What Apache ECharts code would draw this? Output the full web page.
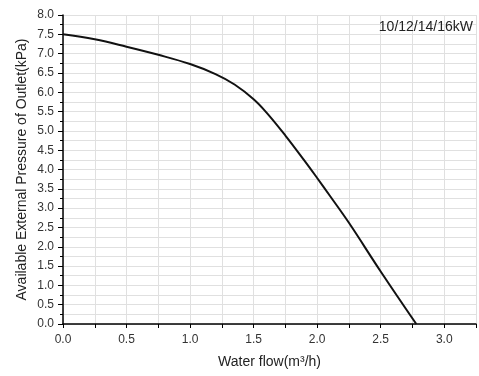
<!DOCTYPE html>
<html><head><meta charset="utf-8">
<script src="https://cdn.jsdelivr.net/npm/echarts@6/dist/echarts.min.js"></script>
<style>html,body{margin:0;padding:0;background:#fff}#c{width:479px;height:376px}</style>
</head><body><div id="c"></div>
<script>
var flow = [0, 0.25, 0.5, 0.75, 1.0, 1.2, 1.35, 1.5, 1.6, 1.75, 1.9, 2.0, 2.1, 2.25, 2.5, 2.78];
var pressure = [7.50, 7.37, 7.18, 6.97, 6.73, 6.47, 6.20, 5.82, 5.48, 4.88, 4.23, 3.78, 3.32, 2.62, 1.36, 0.0];
var title = "10/12/14/16kW";
var xName = "Water flow(m\u00B3/h)";
var yName = "Available External Pressure of Outlet(kPa)";

var data = flow.map(function (f, i) { return [f, pressure[i]]; });
var font = "Liberation Sans, Arial, sans-serif";
var chart = echarts.init(document.getElementById('c'));
chart.setOption({
  animation: false,
  backgroundColor: '#fff',
  title: { text: title, right: 1, top: 15, textStyle: { fontFamily: font, fontSize: 14, fontWeight: 'normal', color: '#222' } },
  grid: { left: 63, right: 0, top: 15, bottom: 52, containLabel: false },
  xAxis: {
    type: 'value', min: 0, max: 3.25, interval: 0.25,
    name: xName, nameLocation: 'middle', nameGap: 31,
    nameTextStyle: { fontFamily: font, fontSize: 14, color: '#222' },
    axisLine: { show: true, onZero: false, lineStyle: { color: '#000', width: 1.5 } },
    axisTick: { show: true, inside: false, length: 4, lineStyle: { color: '#000' } },
    axisLabel: { fontFamily: font, fontSize: 12, color: '#333', margin: 10,
      formatter: function (v) { return (Math.abs(v * 2 - Math.round(v * 2)) < 1e-6) ? v.toFixed(1) : ''; } },
    splitLine: { show: true, lineStyle: { color: '#e0e0e0', width: 1 } }
  },
  yAxis: {
    type: 'value', min: 0, max: 8, interval: 0.5,
    name: yName, nameLocation: 'middle', nameGap: 34, nameMoveOverlap: false,
    nameTextStyle: { fontFamily: font, fontSize: 14, color: '#222' },
    axisLine: { show: true, lineStyle: { color: '#000', width: 1.5 } },
    axisTick: { show: true, inside: false, length: 5, lineStyle: { color: '#000' } },
    minorTick: { show: true, splitNumber: 2, length: 3, lineStyle: { color: '#000' } },
    axisLabel: { fontFamily: font, fontSize: 12, color: '#333', margin: 9,
      formatter: function (v) { return v.toFixed(1); } },
    splitLine: { show: true, lineStyle: { color: '#e0e0e0', width: 1 } },
    minorSplitLine: { show: true, lineStyle: { color: '#e0e0e0', width: 1 } }
  },
  series: [{
    type: 'line', data: data, smooth: 0.4, showSymbol: false,
    lineStyle: { color: '#111', width: 2 }
  }]
});
</script></body></html>
